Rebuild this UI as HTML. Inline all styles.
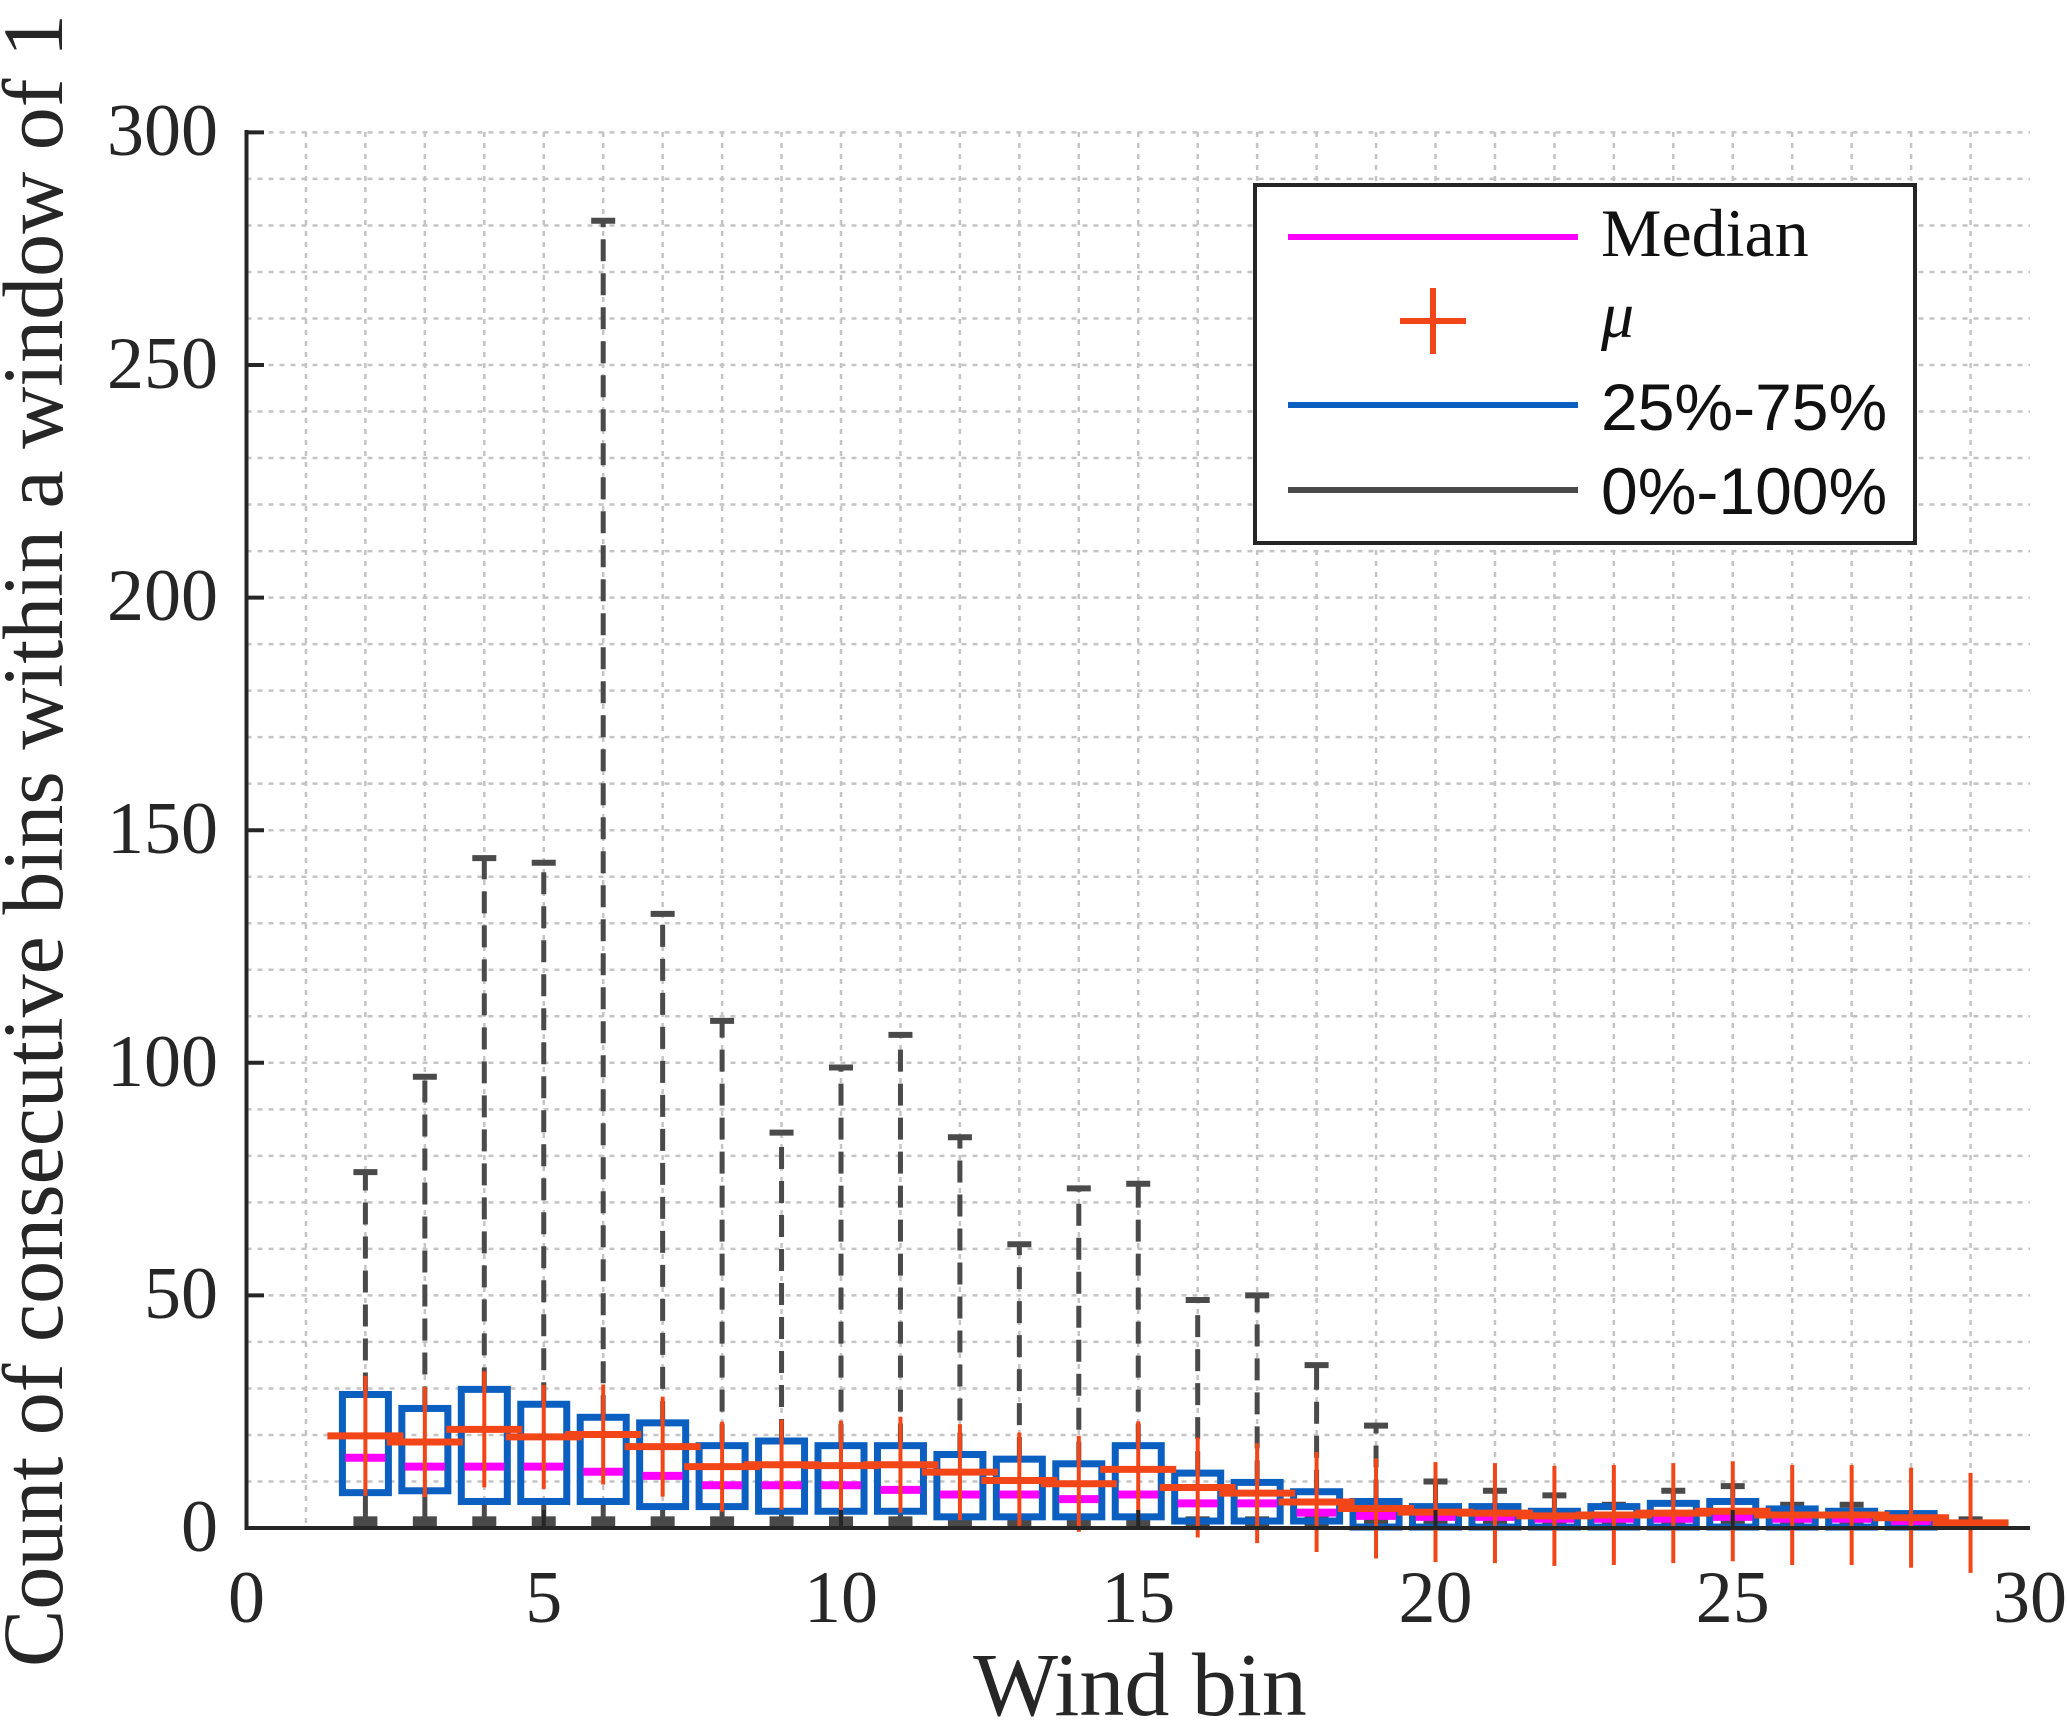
<!DOCTYPE html>
<html><head><meta charset="utf-8"><style>
html,body{margin:0;padding:0;background:#fff}
svg{display:block}
.t{font-family:"Liberation Serif",serif;font-size:74px;fill:#262626}
</style></head><body>
<svg id="s" width="2067" height="1721" xmlns="http://www.w3.org/2000/svg">
<g id="grid"></g>
<g id="data"></g>
<g stroke="#262626" stroke-width="4" fill="none">
<line x1="246.5" y1="130" x2="246.5" y2="1530"/>
<line x1="244.5" y1="1528" x2="2030" y2="1528"/>
</g>
<g id="ticks" stroke="#262626" stroke-width="4"></g>
<g class="t" text-anchor="end">
<text x="218" y="155">300</text>
<text x="218" y="388">250</text>
<text x="218" y="620">200</text>
<text x="218" y="853">150</text>
<text x="218" y="1086">100</text>
<text x="218" y="1318">50</text>
<text x="218" y="1551">0</text>
</g>
<g class="t" text-anchor="middle">
<text x="246.5" y="1622">0</text>
<text x="543.8" y="1622">5</text>
<text x="841" y="1622">10</text>
<text x="1138.3" y="1622">15</text>
<text x="1435.5" y="1622">20</text>
<text x="1732.8" y="1622">25</text>
<text x="2030" y="1622">30</text>
<text x="1140" y="1715" style="font-size:90px">Wind bin</text>
</g>
<text class="t" transform="translate(62,1667) rotate(-90)" style="font-size:86px">Count of consecutive bins within a window of 1</text>
<g>
<rect x="1255" y="185" width="660" height="358" fill="#fff" stroke="#262626" stroke-width="4"/>
<line x1="1288" y1="237" x2="1578" y2="237" stroke="#ff00ff" stroke-width="6"/>
<line x1="1400" y1="321" x2="1466" y2="321" stroke="#f24518" stroke-width="6"/>
<line x1="1433" y1="288" x2="1433" y2="354" stroke="#f24518" stroke-width="6"/>
<line x1="1288" y1="405" x2="1578" y2="405" stroke="#0a5fc0" stroke-width="6"/>
<line x1="1288" y1="490" x2="1578" y2="490" stroke="#4a4a4a" stroke-width="6"/>
<text x="1601" y="256" style="font-family:'Liberation Serif',serif;font-size:68px;fill:#111">Median</text>
<text x="1601" y="337" style="font-family:'Liberation Serif',serif;font-style:italic;font-size:66px;fill:#111">μ</text>
<text x="1601" y="430" style="font-family:'Liberation Sans',sans-serif;font-size:66px;fill:#111">25%-75%</text>
<text x="1601" y="514" style="font-family:'Liberation Sans',sans-serif;font-size:66px;fill:#111">0%-100%</text>
</g>
</svg>
<script>
var NS="http://www.w3.org/2000/svg";
function X(v){return 246.5+v*59.45}function Y(v){return 1528-v*4.652}
function el(p,t,a){var e=document.createElementNS(NS,t);for(var k in a)e.setAttribute(k,a[k]);p.appendChild(e);return e}
var g=document.getElementById('grid');
for(var i=1;i<30;i++)el(g,'line',{x1:X(i),y1:132,x2:X(i),y2:1528,stroke:'#c4c4c4','stroke-width':2.5,'stroke-dasharray':'5 6'});
for(var v=10;v<=300;v+=10)el(g,'line',{x1:246.5,y1:Y(v),x2:2030,y2:Y(v),stroke:'#c4c4c4','stroke-width':2.5,'stroke-dasharray':'5 6'});
var tk=document.getElementById('ticks');
for(var v=0;v<=300;v+=50)el(tk,'line',{x1:246.5,y1:Y(v),x2:264,y2:Y(v)});
for(var i=5;i<30;i+=5)el(tk,'line',{x1:X(i),y1:1528,x2:X(i),y2:1510});
var D=[[2,76.5,7.6,28.7,15.1,19.8,60],[3,97,8,25.7,13.2,18.5,55],[4,144,5.7,29.8,13.2,21.2,58],[5,143,5.7,26.6,13.2,19.6,52],[6,281,5.7,23.8,12.1,20.1,50],[7,132,4.6,22.6,11.2,17.5,50],[8,109,4.6,17.7,9.2,13.2,45],[9,85,3.6,18.7,9.2,13.6,45],[10,99,3.6,17.7,9.2,13.4,45],[11,106,3.6,17.7,8.2,13.6,48],[12,84,2.4,15.8,7.2,12,48],[13,61,2.4,14.8,7.2,10.2,48],[14,73,2.4,13.8,6.2,9.5,48],[15,74,2.4,17.7,7.2,12.6,48],[16,49,1.5,11.8,5.3,8.7,50],[17,50,1.5,9.8,5.3,7.5,50],[18,35,1.5,7.8,3.3,5.6,50],[19,22,0.2,5.7,2.6,4.2,50],[20,10,0.2,4.6,2.4,3.4,50],[21,8,0.2,4.6,2.4,3.2,50],[22,7,0.2,3.6,2,2.6,50],[23,5,0.2,4.6,2,2.8,50],[24,8,0.2,5.3,2,3.2,50],[25,9,0.2,5.7,2.4,3.6,50],[26,5,0.2,4.1,2,2.8,50],[27,5,0.2,3.6,2,2.8,50],[28,3,0.2,3.1,1.5,2.2,50],[29,1,0.5,1,1,1.1,50]];
var d=document.getElementById('data');
D.forEach(function(r){var x=X(r[0]);
 if(r[1]>r[3])el(d,'line',{x1:x,y1:Y(r[3]),x2:x,y2:Y(r[1]),stroke:'#4a4a4a','stroke-width':5,'stroke-dasharray':'22 12'});
 el(d,'line',{x1:x,y1:Y(r[2]),x2:x,y2:Y(1),stroke:'#4a4a4a','stroke-width':5});
 el(d,'line',{x1:x-12,y1:Y(r[1]),x2:x+12,y2:Y(r[1]),stroke:'#4a4a4a','stroke-width':6});
 el(d,'rect',{x:x-12,y:Y(1)-7,width:24,height:13,fill:'#4a4a4a'});
 if(r[0]<29){el(d,'rect',{x:x-23,y:Y(r[3]),width:46,height:Y(r[2])-Y(r[3]),fill:'none',stroke:'#0a5fc0','stroke-width':7});
 el(d,'line',{x1:x-20,y1:Y(r[4]),x2:x+20,y2:Y(r[4]),stroke:'#ff00ff','stroke-width':8});}
});
D.forEach(function(r){var x=X(r[0]),y=Y(r[5]);
 el(d,'line',{x1:x-38,y1:y,x2:x+38,y2:y,stroke:'#f24518','stroke-width':7});
 el(d,'line',{x1:x,y1:y-r[6],x2:x,y2:y+r[6],stroke:'#f24518','stroke-width':4});
});
</script>
</body></html>
